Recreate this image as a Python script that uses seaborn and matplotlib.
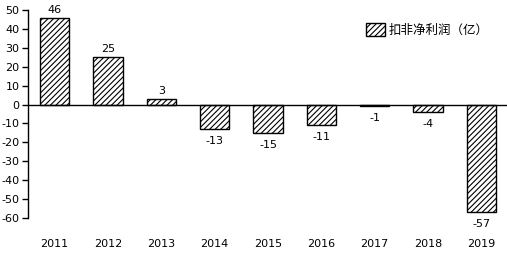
import matplotlib
matplotlib.use("Agg")
import matplotlib.pyplot as plt
import seaborn as sns
import pandas as pd
from matplotlib.patches import Patch

years = ["2011", "2012", "2013", "2014", "2015", "2016", "2017", "2018", "2019"]
profit = [46, 25, 3, -13, -15, -11, -1, -4, -57]
series_name = "扣非净利润（亿）"
y_ticks = [50, 40, 30, 20, 10, 0, -10, -20, -30, -40, -50, -60]

sns.set_style("white")
plt.rcParams["font.family"] = ["DejaVu Sans", "Noto Sans CJK SC"]
plt.rcParams["hatch.linewidth"] = 0.8
plt.rcParams["text.color"] = "black"
plt.rcParams["xtick.color"] = "black"
plt.rcParams["ytick.color"] = "black"

df = pd.DataFrame({"year": years, "value": profit})

fig = plt.figure(figsize=(5.07, 2.56), dpi=100)
ax = fig.add_axes([28 / 507, 38 / 256, 480 / 507, 208 / 256])

sns.barplot(data=df, x="year", y="value", color="white", edgecolor="black",
            linewidth=1.0, width=0.55, hatch="//////", ax=ax, saturation=1)

ax.set_ylim(-60, 50)
ax.set_xlim(-0.5, 8.5)
ax.set_yticks(y_ticks)
ax.set_yticklabels([str(t) for t in y_ticks], fontsize=8, color="black")
ax.tick_params(axis="y", direction="out", length=4, width=1, pad=2, left=True)
ax.tick_params(axis="x", length=0, pad=15, labelsize=8, labelcolor="black")
ax.set_xlabel("")
ax.set_ylabel("")

for s in ["top", "right", "bottom"]:
    ax.spines[s].set_visible(False)
ax.spines["left"].set_color("black")
ax.spines["left"].set_linewidth(1)
ax.axhline(0, color="black", linewidth=1, zorder=3)

for i, v in enumerate(profit):
    if v >= 0:
        ax.annotate(str(v), (i, v), xytext=(0, 2), textcoords="offset points",
                    ha="center", va="bottom", fontsize=8, color="black")
    else:
        ax.annotate(str(v), (i, v), xytext=(0, -5), textcoords="offset points",
                    ha="center", va="top", fontsize=8, color="black")

handle = Patch(facecolor="white", edgecolor="black", hatch="//////", linewidth=1)
leg = ax.legend([handle], [series_name], loc="upper left",
                bbox_to_anchor=(333 / 480, 1 - 8 / 208), frameon=False,
                prop={"family": ["Noto Sans CJK SC"], "size": 9},
                handlelength=1.5, handleheight=1.2, handletextpad=0.3,
                borderaxespad=0, labelcolor="black")

fig.savefig("out.png", dpi=100)
